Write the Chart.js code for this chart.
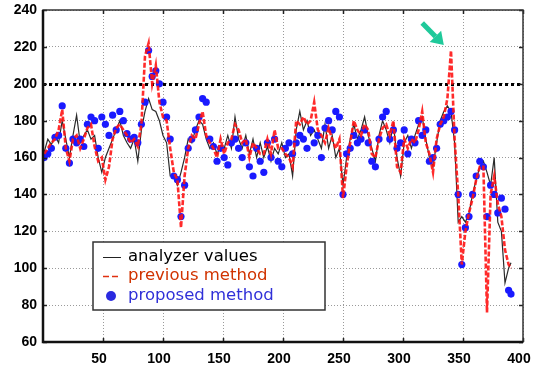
<!DOCTYPE html>
<html>
<head>
<meta charset="utf-8">
<script src="https://cdn.jsdelivr.net/npm/chart.js"></script>
<style>
  html, body { margin: 0; padding: 0; background: #fff; }
  canvas { display: block; }
</style>
</head>
<body>
<canvas id="c" width="534" height="367"></canvas>
<script>
// sample positions (every 3rd sample)
const xs = [1,4,7,10,13,16,19,22,25,28,31,34,37,40,43,46,49,52,55,58,61,64,67,70,73,76,79,82,85,88,91,94,97,100,103,106,109,112,115,118,121,124,127,130,133,136,139,142,145,148,151,154,157,160,163,166,169,172,175,178,181,184,187,190,193,196,199,202,205,208,211,214,217,220,223,226,229,232,235,238,241,244,247,250,253,256,259,262,265,268,271,274,277,280,283,286,289,292,295,298,301,304,307,310,313,316,319,322,325,328,331,334,337,340,343,346,349,352,355,358,361,364,367,370,373,376,379,382,385,388,390];

const analyzer = [
  163,170,167,172,168,180,170,160,172,183,
  168,172,175,170,172,160,152,160,165,170,
  175,180,172,168,165,170,158,175,185,192,
  186,185,180,172,168,150,150,145,152,160,
  170,168,175,180,178,170,165,168,162,166,
  165,172,165,182,170,165,172,162,170,160,
  168,160,166,158,165,162,168,160,162,150,
  175,185,175,180,172,175,170,165,178,165,
  172,160,165,145,160,170,178,170,175,182,
  172,165,158,172,180,175,168,178,160,150,
  168,172,165,172,178,182,170,160,155,168,
  180,185,188,185,168,125,128,125,130,140,
  148,155,158,152,145,160,125,120,92,100,
  103
];

const previous = [
  162,165,168,170,175,186,165,158,170,172,
  165,170,176,178,166,158,160,148,155,170,
  176,178,175,172,168,170,166,178,215,222,
  200,210,190,182,180,165,152,148,122,150,
  165,172,170,178,185,172,168,165,160,170,
  162,168,170,178,175,168,170,160,168,165,
  162,162,170,162,175,165,165,162,160,155,
  180,178,182,178,180,190,175,172,168,176,
  170,165,170,138,155,168,180,175,172,178,
  175,162,160,170,176,178,172,180,155,152,
  170,165,170,168,175,185,168,162,152,170,
  178,182,192,218,170,140,102,120,130,138,
  148,155,155,76,140,150,135,128,110,102,
  100
];

const proposed = [
  160,162,165,171,172,188,165,157,170,168,
  170,166,178,182,180,165,182,178,172,183,
  175,185,180,173,170,171,168,178,190,218,
  204,207,200,190,182,170,150,148,128,145,
  165,170,175,182,192,190,170,166,158,165,
  160,156,168,170,165,160,168,155,150,165,
  158,152,168,160,170,158,155,165,168,162,
  168,172,170,165,175,168,172,160,176,180,
  175,185,182,140,162,165,172,168,170,175,
  168,158,155,170,182,185,170,175,165,168,
  175,162,170,168,180,172,175,158,160,165,
  178,180,182,185,175,140,102,122,128,140,
  150,158,155,128,145,140,130,138,132,88,
  86
];

const xTicks = [50,100,150,200,250,300,350,400];
const yTicks = [60,80,100,120,140,160,180,200,220,240];
const seriesNames = ['analyzer values', 'previous method', 'proposed method'];
const refLevel = 200;
const arrowFrom = [316, 233];
const arrowTo = [334, 221];

const pts = arr => xs.map((x, i) => ({ x: x, y: arr[i] }));

const decor = {
  id: 'decor',
  beforeDatasetsDraw(chart) {
    const { ctx, chartArea: a, scales: { y } } = chart;
    const py = Math.round(y.getPixelForValue(refLevel)) + 0.5;
    ctx.save();
    ctx.strokeStyle = '#000';
    ctx.lineWidth = 3;
    ctx.setLineDash([3, 3]);
    ctx.beginPath();
    ctx.moveTo(a.left, py);
    ctx.lineTo(a.right, py);
    ctx.stroke();
    ctx.restore();
  },
  afterDatasetsDraw(chart) {
    const { ctx, chartArea: a, scales: { x, y } } = chart;
    ctx.save();

    // small inward ticks
    ctx.strokeStyle = '#222';
    ctx.lineWidth = 1.5;
    ctx.beginPath();
    xTicks.forEach(v => {
      const px = Math.round(x.getPixelForValue(v)) + 0.5;
      ctx.moveTo(px, a.bottom); ctx.lineTo(px, a.bottom - 4);
      ctx.moveTo(px, a.top); ctx.lineTo(px, a.top + 4);
    });
    yTicks.forEach(v => {
      const py = Math.round(y.getPixelForValue(v)) + 0.5;
      ctx.moveTo(a.left, py); ctx.lineTo(a.left + 4, py);
      ctx.moveTo(a.right, py); ctx.lineTo(a.right - 4, py);
    });
    ctx.stroke();

    // frame
    ctx.strokeStyle = '#333';
    ctx.lineWidth = 1.5;
    ctx.strokeRect(a.left, a.top, a.right - a.left, a.bottom - a.top);
    ctx.strokeStyle = '#111';
    ctx.lineWidth = 2.5;
    ctx.beginPath();
    ctx.moveTo(a.left, a.top); ctx.lineTo(a.left, a.bottom); ctx.lineTo(a.right, a.bottom);
    ctx.stroke();

    // green arrow
    const x0 = x.getPixelForValue(arrowFrom[0]), y0 = y.getPixelForValue(arrowFrom[1]);
    const x1 = x.getPixelForValue(arrowTo[0]), y1 = y.getPixelForValue(arrowTo[1]);
    const ang = Math.atan2(y1 - y0, x1 - x0);
    const hl = 12, hw = 8;
    const bx = x1 - hl * Math.cos(ang), by = y1 - hl * Math.sin(ang);
    ctx.strokeStyle = '#1fc99a';
    ctx.fillStyle = '#1fc99a';
    ctx.lineWidth = 5;
    ctx.beginPath(); ctx.moveTo(x0, y0); ctx.lineTo(bx, by); ctx.stroke();
    ctx.beginPath();
    ctx.moveTo(x1, y1);
    ctx.lineTo(bx + hw * Math.sin(ang), by - hw * Math.cos(ang));
    ctx.lineTo(bx - hw * Math.sin(ang), by + hw * Math.cos(ang));
    ctx.closePath(); ctx.fill();

    // legend box
    const lx = a.left + 50, ly = a.top + 232, lw = 232, lh = 68;
    ctx.fillStyle = '#fff';
    ctx.fillRect(lx, ly, lw, lh);
    ctx.strokeStyle = '#333';
    ctx.lineWidth = 1.5;
    ctx.strokeRect(lx, ly, lw, lh);

    ctx.font = '16.5px "DejaVu Sans"';
    ctx.textBaseline = 'middle';
    const rows = [ly + 15, ly + 34, ly + 54];
    // analyzer
    ctx.strokeStyle = '#222'; ctx.lineWidth = 1;
    ctx.beginPath(); ctx.moveTo(lx + 10, rows[0] + 0.5); ctx.lineTo(lx + 28, rows[0] + 0.5); ctx.stroke();
    ctx.fillStyle = '#000';
    ctx.fillText(seriesNames[0], lx + 35, rows[0]);
    // previous
    ctx.strokeStyle = '#e03010'; ctx.lineWidth = 1.5; ctx.setLineDash([6, 3]);
    ctx.beginPath(); ctx.moveTo(lx + 10, rows[1] + 0.5); ctx.lineTo(lx + 28, rows[1] + 0.5); ctx.stroke();
    ctx.setLineDash([]);
    ctx.fillStyle = '#d03300';
    ctx.fillText(seriesNames[1], lx + 35, rows[1]);
    // proposed
    ctx.fillStyle = '#2a2ae0';
    ctx.beginPath(); ctx.arc(lx + 18, rows[2], 5, 0, Math.PI * 2); ctx.fill();
    ctx.fillStyle = '#3030d8';
    ctx.fillText(seriesNames[2], lx + 35, rows[2]);

    ctx.restore();
  }
};

new Chart(document.getElementById('c'), {
  type: 'scatter',
  data: {
    datasets: [
      {
        label: seriesNames[0],
        data: pts(analyzer),
        showLine: true,
        borderColor: '#2a2a2a',
        borderWidth: 1.2,
        pointRadius: 0,
        tension: 0,
        order: 3
      },
      {
        label: seriesNames[2],
        data: pts(proposed),
        showLine: false,
        backgroundColor: '#1a1aff',
        borderColor: '#1a1aff',
        borderWidth: 0,
        pointRadius: 3.6,
        order: 2
      },
      {
        label: seriesNames[1],
        data: pts(previous),
        showLine: true,
        borderColor: 'rgba(255,20,20,0.9)',
        borderWidth: 2.6,
        borderDash: [5, 2],
        pointRadius: 0,
        tension: 0,
        order: 1
      }
    ]
  },
  options: {
    responsive: false,
    animation: false,
    devicePixelRatio: 1,
    layout: { padding: { left: 0, top: 10, right: 11, bottom: 0 } },
    plugins: { legend: { display: false }, tooltip: { enabled: false } },
    scales: {
      x: {
        type: 'linear',
        min: 0,
        max: 400,
        afterBuildTicks: s => { s.ticks = xTicks.map(v => ({ value: v })); },
        afterFit: s => { s.height = 25; s.paddingLeft = 0; s.paddingRight = 0; },
        grid: { color: '#9a9a9a', lineWidth: 1, drawTicks: false },
        border: { display: false, dash: [1, 2] },
        ticks: {
          color: '#000',
          font: { family: '"Liberation Sans", Arial, sans-serif', size: 14, weight: 'bold' },
          padding: 9,
          labelOffset: -4,
          maxRotation: 0,
          autoSkip: false
        }
      },
      y: {
        min: 60,
        max: 240,
        afterBuildTicks: s => { s.ticks = yTicks.map(v => ({ value: v })); },
        afterFit: s => { s.width = 43; s.paddingTop = 0; s.paddingBottom = 0; },
        grid: { color: '#9a9a9a', lineWidth: 1, drawTicks: false },
        border: { display: false, dash: [1, 2] },
        ticks: {
          color: '#000',
          font: { family: '"Liberation Sans", Arial, sans-serif', size: 14, weight: 'bold' },
          padding: 6,
          autoSkip: false
        }
      }
    }
  },
  plugins: [decor]
});
</script>
</body>
</html>
